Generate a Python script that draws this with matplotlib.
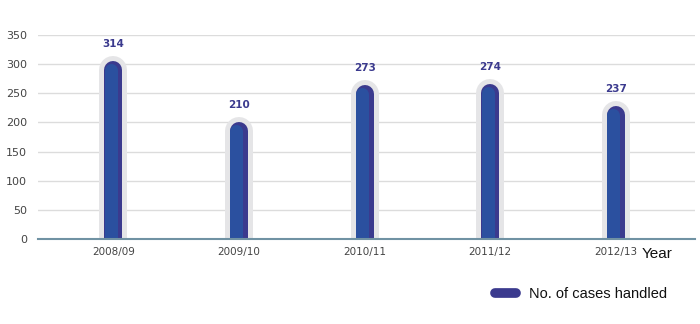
import matplotlib
matplotlib.use("Agg")
import matplotlib.pyplot as plt
from matplotlib.transforms import ScaledTranslation
from matplotlib.lines import Line2D

years = ["2008/09", "2009/10", "2010/11", "2011/12", "2012/13"]
cases = [314, 210, 273, 274, 237]
yticks = [0, 50, 100, 150, 200, 250, 300, 350]
series_name = "No. of cases handled"

DPI = 100
fig = plt.figure(figsize=(7.0, 3.24), dpi=DPI)
ax = fig.add_axes([38/700, (324-239)/324, (695-38)/700, (239-35)/324])

narrow = ['Liberation Sans Narrow', 'Liberation Sans', 'DejaVu Sans']

glow_px, bar_px, light_px = 28, 18, 13
px2pt = 72 / DPI
glow_tr = ax.transData + ScaledTranslation(0, -glow_px / 2 / DPI, fig.dpi_scale_trans)
light_tr = ax.transData + ScaledTranslation(-2.5 / DPI, -glow_px / 2 / DPI, fig.dpi_scale_trans)

for i, v in enumerate(cases):
    ax.plot([i, i], [0, v], color='#E5E5E7', lw=glow_px * px2pt,
            solid_capstyle='round', transform=glow_tr, zorder=2)
    ax.plot([i, i], [0, v], color='#3B3A8E', lw=bar_px * px2pt,
            solid_capstyle='round', transform=glow_tr, zorder=3)
    ax.plot([i, i], [0, v], color='#2B509F', lw=light_px * px2pt,
            solid_capstyle='round', transform=light_tr, zorder=4)
    ax.annotate(str(v), (i, v), xytext=(0, 5), textcoords='offset points',
                ha='center', va='bottom', fontsize=7.5, fontweight='bold',
                color='#3B3A8E', zorder=5)

ax.set_xlim(-0.6, 4.63)
ax.set_ylim(0, 350)
ax.set_yticks(yticks)
ax.set_yticklabels([str(t) for t in yticks])
ax.set_xticks(range(len(years)))
ax.set_xticklabels(years)
ax.tick_params(axis='both', length=0, labelsize=7.5, labelcolor='#444444')
ax.tick_params(axis='y', labelsize=8, pad=8)
ax.tick_params(axis='x', pad=6)
ax.grid(axis='y', color='#DCDCDC', lw=1.0, zorder=0)
ax.set_axisbelow(True)
for s in ['left', 'right', 'top']:
    ax.spines[s].set_visible(False)
ax.spines['bottom'].set_color('#7092A3')
ax.spines['bottom'].set_linewidth(1.5)
ax.spines['bottom'].set_zorder(6)

fig.text(642/700, 1 - 254/324, "Year", fontsize=11, family=narrow,
         color='#111111', ha='left', va='center')

handle = Line2D([0], [0], color='#3B3A8E', lw=7, solid_capstyle='round')
leg = fig.legend([handle], [series_name], loc='center right',
                 bbox_to_anchor=(680/700, 1 - 294/324), frameon=False,
                 handlelength=1.4, handletextpad=0.9,
                 prop={'family': narrow, 'size': 10.5})
for t in leg.get_texts():
    t.set_color('#111111')

fig.savefig("out.png", dpi=DPI)
